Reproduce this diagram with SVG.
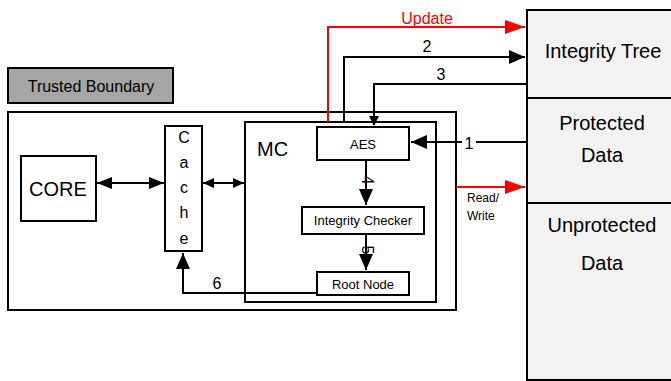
<svg xmlns="http://www.w3.org/2000/svg" width="671" height="381" viewBox="0 0 671 381">
<style>
text{font-family:"Liberation Sans",Arial,sans-serif;fill:#000}
.box{fill:#fff;stroke:#000;stroke-width:2}
.mem{fill:#f2f2f2;stroke:#000;stroke-width:2}
.ln{fill:none;stroke:#000;stroke-width:2}
.red{fill:none;stroke:#f00;stroke-width:2}
</style>
<defs>
<marker id="ah" markerWidth="10" markerHeight="10" refX="9" refY="5" orient="auto" markerUnits="userSpaceOnUse" viewBox="0 0 10 10"><path d="M0,0 L10,5 L0,10z" fill="#000"/></marker>
<marker id="as" markerWidth="11" markerHeight="10" refX="11" refY="5" orient="auto-start-reverse" markerUnits="userSpaceOnUse" viewBox="0 0 11 10"><path d="M0,0 L11,5 L0,10z" fill="#000"/></marker>
<marker id="al" markerWidth="15" markerHeight="12" refX="15" refY="6" orient="auto-start-reverse" markerUnits="userSpaceOnUse" viewBox="0 0 15 12"><path d="M0,0 L15,6 L0,12z" fill="#000"/></marker>
<marker id="ab" markerWidth="16" markerHeight="14" refX="16" refY="7" orient="auto" markerUnits="userSpaceOnUse" viewBox="0 0 16 14"><path d="M0,0 L16,7 L0,14z" fill="#000"/></marker>
<marker id="ar" markerWidth="20" markerHeight="14" refX="20" refY="7" orient="auto" markerUnits="userSpaceOnUse" viewBox="0 0 20 14"><path d="M0,0 L20,7 L0,14z" fill="#f00"/></marker>
</defs>
<g id="memory">
<rect class="mem" x="527" y="10" width="150" height="370"/>
<line class="ln" x1="527" y1="98" x2="671" y2="98"/>
<line class="ln" x1="527" y1="203" x2="671" y2="203"/>
<text x="603" y="58" font-size="20" text-anchor="middle">Integrity Tree</text>
<text x="602" y="130" font-size="20" text-anchor="middle">Protected</text>
<text x="602" y="162" font-size="20" text-anchor="middle">Data</text>
<text x="602" y="232" font-size="20" text-anchor="middle">Unprotected</text>
<text x="602" y="270" font-size="20" text-anchor="middle">Data</text>
</g>
<g id="trusted-label">
<rect x="8" y="68" width="165" height="35" fill="#a6a6a6" stroke="#000" stroke-width="2"/>
<text x="91" y="92" font-size="16" text-anchor="middle">Trusted Boundary</text>
</g>
<g id="trusted-boundary">
<rect class="box" x="8" y="112" width="448" height="198"/>
</g>
<g id="core">
<rect class="box" x="21" y="156" width="75" height="65"/>
<text x="58" y="196" font-size="20" text-anchor="middle">CORE</text>
</g>
<g id="cache">
<rect class="box" x="165" y="126" width="37" height="125"/>
<text x="184" y="143" font-size="16" text-anchor="middle">C</text>
<text x="184" y="168" font-size="16" text-anchor="middle">a</text>
<text x="184" y="193" font-size="16" text-anchor="middle">c</text>
<text x="184" y="218" font-size="16" text-anchor="middle">h</text>
<text x="184" y="244" font-size="16" text-anchor="middle">e</text>
</g>
<g id="mc">
<rect class="box" x="245" y="122" width="191" height="180"/>
<text x="257" y="156" font-size="20">MC</text>
</g>
<g id="aes">
<rect class="box" x="317" y="127" width="92" height="33"/>
<text x="363" y="149" font-size="13" text-anchor="middle">AES</text>
</g>
<g id="integrity-checker">
<rect class="box" x="302" y="207" width="122" height="27"/>
<text x="363" y="225" font-size="13" text-anchor="middle">Integrity Checker</text>
</g>
<g id="root-node">
<rect class="box" x="317" y="272" width="92" height="23"/>
<text x="363" y="289" font-size="13" text-anchor="middle">Root Node</text>
</g>
<g id="connectors">
<line class="ln" x1="97" y1="183" x2="164" y2="183" marker-start="url(#al)" marker-end="url(#al)"/>
<line class="ln" x1="203" y1="183" x2="244" y2="183" marker-start="url(#as)" marker-end="url(#as)"/>
<polyline class="red" points="328,122 328,27 525,27" marker-end="url(#ar)"/>
<text x="427" y="24" font-size="16" text-anchor="middle" style="fill:#f00">Update</text>
<polyline class="ln" points="344,122 344,57 525,57" marker-end="url(#ab)"/>
<text x="427" y="52" font-size="16" text-anchor="middle">2</text>
<polyline class="ln" points="527,84 374,84 374,125" marker-end="url(#ah)"/>
<text x="441" y="80" font-size="16" text-anchor="middle">3</text>
<line class="ln" x1="527" y1="142" x2="411" y2="142" marker-end="url(#ab)"/>
<rect x="462" y="132" width="14" height="18" fill="#fff"/>
<text x="469" y="149" font-size="16" text-anchor="middle">1</text>
<line class="ln" x1="366" y1="160" x2="366" y2="205" marker-end="url(#ab)"/>
<text transform="translate(362,180) rotate(90)" font-size="16" text-anchor="middle">4</text>
<line class="ln" x1="366" y1="234" x2="366" y2="270" marker-end="url(#ab)"/>
<text transform="translate(362,250) rotate(90)" font-size="16" text-anchor="middle">5</text>
<line class="red" x1="456" y1="187" x2="525" y2="187" marker-end="url(#ar)"/>
<text x="467" y="202" font-size="12">Read/</text>
<text x="467" y="220" font-size="12">Write</text>
<polyline class="ln" points="317,293 183,293 183,253" marker-end="url(#ab)"/>
<text x="217" y="289" font-size="16" text-anchor="middle">6</text>
</g>
</svg>
